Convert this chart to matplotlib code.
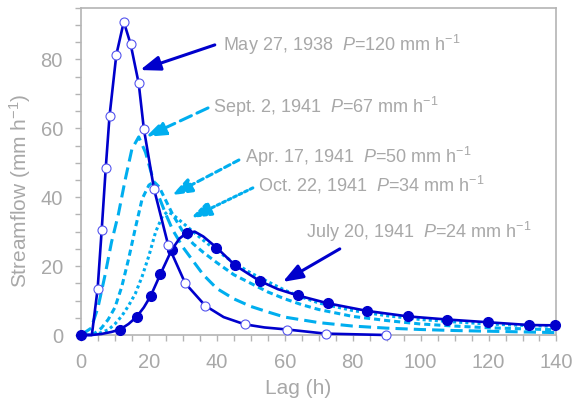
import matplotlib

matplotlib.use("Agg")
import matplotlib.pyplot as plt
from matplotlib.ticker import MultipleLocator

plt.rcParams["font.family"] = ["Liberation Sans", "DejaVu Sans"]
plt.rcParams["mathtext.fontset"] = "custom"
plt.rcParams["mathtext.rm"] = "Liberation Sans"
plt.rcParams["mathtext.it"] = "Liberation Sans:italic"

DARK = "#0000cc"
CYAN = "#00aeef"
GRAY = "#b4b4b4"
TEXT = "#a8a8a8"

# May 27, 1938 (P = 120 mm/h): observed points and the fitted curve through them
may_x = [4.9, 6.1, 7.3, 8.4, 10.4, 12.6, 14.6, 17.0, 18.5, 21.5, 25.7, 30.7, 36.6, 48.2, 60.7, 72.0, 89.9]
may_y = [13.4, 30.5, 48.6, 63.5, 81.3, 90.9, 84.5, 73.0, 59.9, 42.4, 26.0, 15.0, 8.5, 3.1, 1.6, 0.4, 0.0]
may_cx = [0, 3.2, 4.9, 6.1, 7.3, 8.4, 10.4, 12.6, 14.6, 17.0, 18.5, 21.5, 25.7, 30.7, 36.6,
          42, 48.2, 54, 60.7, 72.0, 89.9]
may_cy = [0, 0, 13.4, 30.5, 48.6, 63.5, 81.3, 90.9, 84.5, 73.0, 59.9, 42.4, 26.0, 15.0, 8.5,
          5.2, 3.1, 2.2, 1.6, 0.4, 0.0]

# July 20, 1941 (P = 24 mm/h)
jul_x = [0, 11.5, 16.4, 20.5, 23.4, 26.7, 31.1, 39.9, 45.4, 52.6, 63.8, 72.7, 84.2, 96.3,
         107.8, 119.9, 131.9, 139.7]
jul_y = [0, 1.6, 5.3, 11.3, 17.7, 24.7, 29.6, 25.4, 20.2, 15.7, 11.5, 9.2, 7.0, 5.4,
         4.5, 3.7, 2.9, 2.8]
jul_cx = [0, 3, 6, 9, 11.5, 14, 16.4, 18.5, 20.5, 23.4, 26.7, 29, 31.1, 33.5, 36, 39.9,
          45.4, 52.6, 58, 63.8, 72.7, 84.2, 96.3, 107.8, 119.9, 131.9, 139.7]
jul_cy = [0, 0, 0.3, 0.9, 1.6, 3.2, 5.3, 8.0, 11.3, 17.7, 24.7, 28.0, 29.6, 30.0, 28.6, 25.4,
          20.2, 15.7, 13.3, 11.5, 9.2, 7.0, 5.4, 4.5, 3.7, 2.9, 2.8]

# Sept. 2, 1941 (P = 67 mm/h)
sep_x = [0, 3, 5, 7, 9, 11, 13, 15, 17, 19, 21, 23, 25, 27, 30, 33, 36, 40, 45, 50, 55,
         60, 70, 80, 90, 100, 110, 120, 130, 140]
sep_y = [0, 2, 8, 17, 27, 35, 45, 54, 57.5, 53, 46, 40, 35, 30.5, 25.5, 21.5, 17.5, 13.5,
         10.5, 8.3, 6.7, 5.2, 3.6, 2.6, 2.0, 1.6, 1.3, 1.1, 0.9, 0.7]

# Apr. 17, 1941 (P = 50 mm/h)
apr_x = [0, 4, 6, 8, 10, 12, 14, 16, 18, 20, 21.5, 23, 25, 27, 30, 33, 36, 40, 45, 50, 55,
         60, 65, 70, 80, 90, 100, 110, 120, 130, 140]
apr_y = [0, 0.5, 2, 4.5, 8, 14, 22, 31, 39.5, 43.5, 44.5, 43, 39, 35, 30, 26.5, 24, 21,
         17.5, 15, 12.5, 10.5, 8.8, 7.4, 5.4, 4.2, 3.2, 2.6, 2.1, 1.8, 1.5]

# Oct. 22, 1941 (P = 34 mm/h)
oct_x = [0, 4, 8, 10, 12, 14, 16, 18, 20, 22, 24, 25.5, 27, 30, 33, 36, 40, 45, 50, 55, 60,
         65, 70, 80, 90, 100, 110, 120, 130, 140]
oct_y = [0, 0, 1.5, 3.2, 5.5, 8.5, 12, 17, 23, 30, 34.5, 35.8, 35, 32.5, 30, 27.5, 24.5, 21,
         18, 15.5, 13, 11, 9.3, 7.1, 5.6, 4.5, 3.8, 3.2, 2.8, 2.5]

# label text, label anchor, arrow tail, arrow head, arrow line style, colour
labels = [
    ("May 27, 1938  $\\it{P}$=120 mm h$^{-1}$", (41.8, 84.2), (39.4, 84.2), (17.4, 76.9), "-", DARK),
    ("Sept. 2, 1941  $\\it{P}$=67 mm h$^{-1}$", (38.8, 66.2), (37.4, 65.9), (19.1, 57.5), (0, (4, 2)), CYAN),
    ("Apr. 17, 1941  $\\it{P}$=50 mm h$^{-1}$", (48.3, 51.7), (46.5, 50.8), (26.8, 40.6), (0, (2, 1.3)), CYAN),
    ("Oct. 22, 1941  $\\it{P}$=34 mm h$^{-1}$", (52.1, 43.6), (50.6, 42.7), (32.4, 34.0), (0, (1, 1)), CYAN),
    ("July 20, 1941  $\\it{P}$=24 mm h$^{-1}$", (66.2, 29.9), (76.2, 25.0), (59.4, 15.4), "-", DARK),
]

fig = plt.figure(figsize=(5.76, 4.05), dpi=100)
ax = fig.add_axes([0.1406, 0.1728, 0.8255, 0.8082])

ax.plot(sep_x, sep_y, color=CYAN, lw=2.2, ls=(0, (4, 2)))
ax.plot(apr_x, apr_y, color=CYAN, lw=2.2, ls=(0, (2, 1.3)))
ax.plot(oct_x, oct_y, color=CYAN, lw=2.2, ls=(0, (1, 1)))

ax.plot(jul_cx, jul_cy, color=DARK, lw=1.9, clip_on=False, zorder=3)
ax.plot(jul_x, jul_y, ls="none", marker="o", ms=7, mfc=DARK, mec=DARK, clip_on=False, zorder=4)

ax.plot(may_cx, may_cy, color=DARK, lw=1.9, clip_on=False, zorder=3)
ax.plot(may_x, may_y, ls="none", marker="o", ms=6.5, mfc="white", mec="#5555ee", mew=0.8,
        clip_on=False, zorder=4)

for text, pos, tail, head, ls, col in labels:
    ax.text(pos[0], pos[1], text, ha="left", va="center", fontsize=13, color=TEXT)
    ax.annotate("", xy=head, xytext=tail,
                arrowprops=dict(arrowstyle="-|>,head_length=0.6,head_width=0.22",
                                mutation_scale=20, color=col, lw=2.2, ls=ls,
                                shrinkA=0, shrinkB=0))

ax.set_xlim(0, 140)
ax.set_ylim(0, 95)
ax.xaxis.set_major_locator(MultipleLocator(20))
ax.xaxis.set_minor_locator(MultipleLocator(5))
ax.yaxis.set_major_locator(MultipleLocator(20))
ax.yaxis.set_minor_locator(MultipleLocator(5))
ax.tick_params(which="both", direction="out", length=4, width=1, color=GRAY,
               labelcolor=TEXT, labelsize=14.5)
ax.tick_params(axis="x", pad=9)
ax.tick_params(axis="y", pad=9)
for sp in ax.spines.values():
    sp.set_color(GRAY)
    sp.set_linewidth(1.2)

ax.set_xlabel("Lag (h)", fontsize=15, color=TEXT)
ax.set_ylabel("Streamflow (mm h$^{-1}$)", fontsize=15, color=TEXT)
ax.xaxis.set_label_coords(0.456, -0.135)
ax.yaxis.set_label_coords(-0.101, 0.442)

fig.savefig("out.png", dpi=100)
